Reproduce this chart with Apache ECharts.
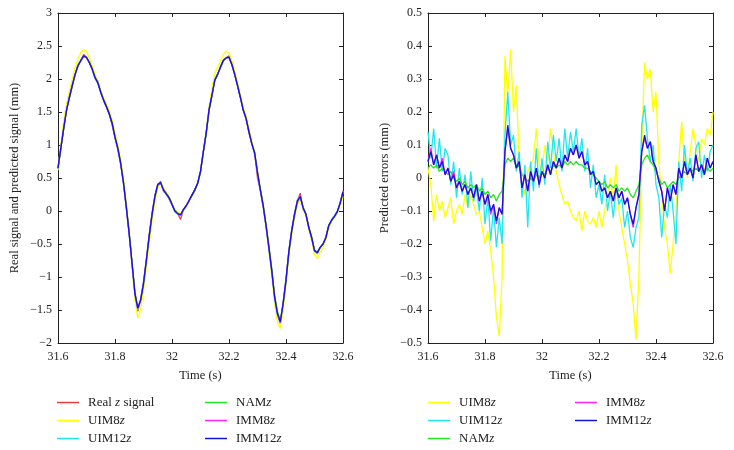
<!DOCTYPE html>
<html>
<head>
<meta charset="utf-8">
<script src="https://cdn.jsdelivr.net/npm/echarts@6/dist/echarts.min.js"></script>
<style>html,body{margin:0;padding:0;background:#fff;}#c{width:734px;height:450px;}</style>
</head>
<body>
<div id="c"></div>
<script>
// sampling grid (s)
const tStart = 31.6, tStep = 0.01;
const xTicks = [31.6, 31.8, 32, 32.2, 32.4, 32.6];
const yTicksLeft = [-2, -1.5, -1, -0.5, 0, 0.5, 1, 1.5, 2, 2.5, 3];
const yTicksRight = [-0.5, -0.4, -0.3, -0.2, -0.1, 0, 0.1, 0.2, 0.3, 0.4, 0.5];

// Left panel: real and predicted signal (mm)
const realZ = [0.65,0.95,1.25,1.53,1.72,1.90,2.07,2.20,2.28,2.37,
 2.33,2.25,2.15,2.02,1.97,1.80,1.68,1.58,1.47,1.30,
 1.12,0.95,0.72,0.42,0.05,-0.35,-0.80,-1.25,-1.52,-1.35,
 -1.10,-0.75,-0.38,-0.05,0.22,0.40,0.45,0.30,0.26,0.18,
 0.10,0.00,-0.04,-0.13,0.02,0.08,0.16,0.24,0.32,0.42,
 0.60,0.90,1.18,1.53,1.75,1.98,2.07,2.18,2.28,2.32,
 2.35,2.22,2.07,1.90,1.72,1.53,1.40,1.18,1.02,0.88,
 0.50,0.32,0.08,-0.22,-0.55,-0.90,-1.30,-1.55,-1.70,-1.40,
 -1.05,-0.62,-0.30,-0.05,0.15,0.27,0.02,-0.05,-0.25,-0.40,
 -0.60,-0.65,-0.55,-0.50,-0.40,-0.22,-0.14,-0.08,-0.01,0.12,
 0.31];
const uim8Sig = [0.62,1.00,1.35,1.62,1.82,2.00,2.17,2.30,2.40,2.44,
 2.42,2.32,2.20,2.07,1.97,1.83,1.72,1.62,1.52,1.38,
 1.18,1.00,0.78,0.48,0.10,-0.35,-0.85,-1.35,-1.62,-1.50,
 -1.20,-0.85,-0.48,-0.15,0.15,0.35,0.42,0.36,0.28,0.22,
 0.12,0.02,-0.02,-0.04,0.00,0.06,0.14,0.22,0.30,0.40,
 0.58,0.88,1.20,1.58,1.85,2.08,2.18,2.27,2.37,2.42,
 2.40,2.28,2.12,1.94,1.76,1.57,1.44,1.24,1.06,0.90,
 0.60,0.32,0.05,-0.25,-0.60,-0.98,-1.40,-1.68,-1.78,-1.50,
 -1.10,-0.68,-0.36,-0.10,0.10,0.18,0.02,-0.08,-0.28,-0.45,
 -0.66,-0.72,-0.62,-0.55,-0.44,-0.26,-0.16,-0.10,-0.04,0.08,
 0.22];
const uim12Sig = [0.66,0.97,1.27,1.54,1.74,1.91,2.08,2.21,2.29,2.35,
 2.32,2.24,2.14,2.01,1.93,1.79,1.67,1.57,1.46,1.31,
 1.10,0.93,0.70,0.40,0.02,-0.38,-0.83,-1.28,-1.50,-1.33,
 -1.07,-0.72,-0.35,-0.03,0.24,0.41,0.42,0.31,0.25,0.19,
 0.09,-0.01,-0.05,-0.06,0.01,0.07,0.15,0.23,0.31,0.42,
 0.61,0.92,1.20,1.55,1.76,1.99,2.08,2.19,2.29,2.32,
 2.32,2.21,2.06,1.89,1.71,1.52,1.39,1.19,1.01,0.86,
 0.56,0.30,0.05,-0.25,-0.58,-0.93,-1.33,-1.58,-1.70,-1.38,
 -1.02,-0.60,-0.28,-0.03,0.17,0.23,0.05,-0.06,-0.26,-0.42,
 -0.61,-0.64,-0.56,-0.50,-0.39,-0.21,-0.13,-0.07,0.00,0.13,
 0.30];
const namSig = [0.64,0.94,1.24,1.52,1.71,1.89,2.06,2.19,2.27,2.34,
 2.33,2.26,2.16,2.03,1.95,1.81,1.69,1.59,1.48,1.34,
 1.13,0.96,0.73,0.44,0.07,-0.33,-0.78,-1.23,-1.46,-1.36,
 -1.12,-0.77,-0.40,-0.07,0.20,0.39,0.43,0.33,0.27,0.20,
 0.11,0.01,-0.03,-0.06,0.02,0.08,0.16,0.24,0.32,0.41,
 0.58,0.88,1.16,1.51,1.74,1.97,2.06,2.17,2.27,2.32,
 2.33,2.23,2.08,1.91,1.73,1.54,1.41,1.21,1.03,0.89,
 0.60,0.34,0.10,-0.20,-0.52,-0.87,-1.27,-1.52,-1.66,-1.42,
 -1.08,-0.65,-0.32,-0.07,0.13,0.21,0.06,-0.04,-0.24,-0.39,
 -0.59,-0.62,-0.55,-0.50,-0.41,-0.23,-0.15,-0.09,-0.02,0.11,
 0.28];
const imm8Sig = [0.65,0.96,1.26,1.53,1.73,1.90,2.07,2.20,2.28,2.35,
 2.32,2.25,2.15,2.02,1.94,1.80,1.68,1.58,1.47,1.32,
 1.11,0.94,0.71,0.41,0.04,-0.36,-0.81,-1.26,-1.48,-1.34,
 -1.09,-0.74,-0.37,-0.04,0.23,0.40,0.43,0.32,0.26,0.20,
 0.10,0.00,-0.04,-0.06,0.02,0.08,0.16,0.24,0.32,0.42,
 0.60,0.90,1.19,1.54,1.75,1.98,2.07,2.18,2.28,2.32,
 2.33,2.22,2.07,1.90,1.72,1.53,1.40,1.20,1.02,0.87,
 0.57,0.31,0.07,-0.23,-0.56,-0.91,-1.31,-1.56,-1.69,-1.39,
 -1.04,-0.61,-0.29,-0.04,0.16,0.22,0.05,-0.05,-0.25,-0.41,
 -0.60,-0.63,-0.55,-0.50,-0.40,-0.22,-0.14,-0.08,-0.01,0.12,
 0.29];
const imm12Sig = [0.65,0.95,1.25,1.53,1.72,1.90,2.07,2.20,2.28,2.35,
 2.33,2.25,2.15,2.02,1.94,1.80,1.68,1.58,1.47,1.33,
 1.12,0.95,0.72,0.42,0.05,-0.35,-0.80,-1.25,-1.47,-1.35,
 -1.10,-0.75,-0.38,-0.05,0.22,0.40,0.43,0.32,0.26,0.20,
 0.10,0.00,-0.04,-0.06,0.02,0.08,0.16,0.24,0.32,0.42,
 0.60,0.90,1.18,1.53,1.75,1.98,2.07,2.18,2.28,2.32,
 2.33,2.22,2.07,1.90,1.72,1.53,1.40,1.20,1.02,0.88,
 0.58,0.32,0.08,-0.22,-0.55,-0.90,-1.30,-1.55,-1.68,-1.40,
 -1.05,-0.62,-0.30,-0.05,0.15,0.22,0.05,-0.05,-0.25,-0.40,
 -0.60,-0.63,-0.55,-0.50,-0.40,-0.22,-0.14,-0.08,-0.01,0.12,
 0.29];

// Right panel: predicted errors (mm)
const uim8Err = [0.03,-0.02,-0.13,-0.05,-0.10,-0.07,-0.12,-0.09,-0.06,-0.14,
 -0.10,-0.08,-0.11,-0.05,-0.09,-0.05,-0.08,-0.11,-0.10,-0.15,
 -0.20,-0.16,-0.22,-0.30,-0.42,-0.48,-0.30,0.37,0.25,0.39,
 0.20,0.28,0.05,-0.02,-0.05,0.02,0.04,0.06,0.15,0.04,
 0.02,0.10,0.05,0.15,0.08,0.02,-0.02,-0.05,-0.08,-0.07,
 -0.10,-0.12,-0.13,-0.10,-0.16,-0.10,-0.13,-0.14,-0.12,-0.15,
 -0.10,-0.15,-0.10,-0.05,0.00,-0.06,0.04,-0.10,-0.15,-0.20,
 -0.25,-0.32,-0.38,-0.49,-0.30,0.09,0.35,0.30,0.33,0.20,
 0.26,0.05,-0.05,-0.15,-0.20,-0.29,-0.20,-0.10,0.05,0.17,
 0.05,0.00,0.08,0.15,0.10,0.05,0.12,0.10,0.15,0.13,
 0.20];
const uim12Err = [0.14,0.06,0.15,0.03,0.12,0.02,0.09,0.07,-0.02,0.05,
 -0.06,0.03,-0.05,0.01,-0.09,0.02,-0.07,-0.03,-0.10,0.00,
 -0.14,-0.06,-0.19,-0.09,-0.21,-0.12,-0.20,0.13,0.26,0.10,
 0.13,0.02,0.08,-0.06,0.04,-0.15,0.05,-0.04,0.09,-0.03,
 0.06,-0.02,0.11,0.03,0.13,0.05,0.12,0.02,0.15,0.06,
 0.14,0.08,0.15,0.06,0.12,0.02,0.09,-0.03,0.04,-0.06,
 -0.02,-0.08,0.01,-0.10,-0.04,-0.12,-0.03,-0.08,-0.06,-0.15,
 -0.10,-0.18,-0.21,-0.15,-0.12,0.16,0.22,0.12,0.05,0.10,
 -0.02,-0.06,-0.18,-0.08,-0.12,-0.02,-0.10,-0.20,0.05,-0.04,
 0.10,0.01,0.06,-0.01,0.09,0.11,0.00,0.07,0.02,0.08,
 0.10];
const namErr = [0.03,0.04,0.03,0.04,0.02,0.03,0.02,0.01,0.02,0.00,
 -0.01,0.00,-0.02,-0.01,-0.03,-0.02,-0.03,-0.02,-0.04,-0.03,
 -0.05,-0.04,-0.06,-0.05,-0.07,-0.05,-0.04,0.04,0.06,0.05,
 0.06,0.03,0.04,0.01,0.00,-0.01,0.00,-0.01,0.01,0.00,
 0.02,0.01,0.03,0.02,0.04,0.03,0.04,0.03,0.05,0.04,
 0.05,0.04,0.05,0.04,0.04,0.03,0.03,0.02,0.01,0.00,
 -0.01,-0.02,-0.01,-0.03,-0.02,-0.03,-0.02,-0.04,-0.03,-0.04,
 -0.03,-0.05,-0.06,-0.04,-0.02,0.04,0.06,0.07,0.05,0.04,
 0.02,0.00,-0.02,-0.01,-0.03,-0.02,-0.01,-0.02,0.00,0.01,
 0.02,0.01,0.03,0.02,0.03,0.02,0.04,0.02,0.03,0.02,
 0.03];
const imm8Err = [0.05,0.09,0.04,0.07,0.03,0.06,0.01,0.03,-0.01,0.02,
 -0.03,-0.01,-0.04,-0.02,-0.05,-0.03,-0.06,-0.02,-0.07,-0.04,
 -0.08,-0.05,-0.11,-0.08,-0.14,-0.09,-0.11,0.08,0.15,0.09,
 0.07,0.03,0.05,-0.03,0.01,-0.04,0.02,-0.01,0.03,-0.02,
 0.02,0.00,0.04,0.01,0.05,0.03,0.06,0.03,0.07,0.05,
 0.09,0.07,0.10,0.06,0.08,0.04,0.05,0.01,0.02,-0.02,
 -0.01,-0.04,-0.03,-0.06,-0.04,-0.07,-0.03,-0.06,-0.04,-0.08,
 -0.06,-0.11,-0.15,-0.09,-0.05,0.08,0.12,0.09,0.11,0.05,
 0.03,-0.01,-0.04,-0.10,-0.03,-0.07,-0.02,-0.05,0.03,0.00,
 0.05,0.01,0.03,0.00,0.07,0.02,0.04,0.01,0.06,0.03,
 0.05];
const imm12Err = [0.05,0.08,0.04,0.07,0.03,0.05,0.01,0.03,-0.01,0.01,
 -0.03,-0.01,-0.04,-0.02,-0.05,-0.03,-0.06,-0.02,-0.07,-0.04,
 -0.08,-0.05,-0.10,-0.08,-0.13,-0.09,-0.11,0.08,0.16,0.09,
 0.07,0.03,0.05,-0.03,0.01,-0.04,0.02,-0.01,0.03,-0.02,
 0.02,0.00,0.04,0.01,0.05,0.03,0.06,0.03,0.07,0.05,
 0.09,0.07,0.10,0.06,0.08,0.04,0.05,0.01,0.02,-0.02,
 -0.01,-0.04,-0.03,-0.06,-0.04,-0.07,-0.03,-0.06,-0.04,-0.08,
 -0.06,-0.11,-0.14,-0.09,-0.05,0.08,0.13,0.09,0.11,0.05,
 0.03,-0.01,-0.04,-0.10,-0.03,-0.07,-0.02,-0.05,0.03,0.00,
 0.05,0.01,0.03,0.00,0.07,0.02,0.04,0.01,0.06,0.03,
 0.05];

const legendLeftA = ['Real z signal', 'UIM8z', 'UIM12z'];
const legendLeftB = ['NAMz', 'IMM8z', 'IMM12z'];
const legendRightA = ['UIM8z', 'UIM12z', 'NAMz'];
const legendRightB = ['IMM8z', 'IMM12z'];

const colors = {
  'Real z signal': '#f03c3c',
  'UIM8z': '#ffff00',
  'UIM12z': '#22e6ee',
  'NAMz': '#22e622',
  'IMM8z': '#ff22ff',
  'IMM12z': '#1414d8'
};

const FONT = 'Liberation Serif';
const pair = arr => arr.map((v, i) => [+(tStart + i * tStep).toFixed(3), v]);
const fmtNum = v => {
  const s = String(parseFloat((+v).toFixed(2)));
  return s.replace('-', '\u2212');
};

const axisLineStyle = { lineStyle: { color: '#222', width: 1 } };
function xAxes(gridIndex) {
  const base = {
    type: 'value', gridIndex, min: 31.6, max: 32.6, interval: 0.2,
    axisLine: Object.assign({ show: true, onZero: false }, axisLineStyle),
    axisTick: { show: true, inside: true, length: 4, lineStyle: { color: '#222' } },
    splitLine: { show: false }
  };
  return [
    Object.assign({}, base, {
      position: 'bottom',
      axisLabel: { formatter: fmtNum, fontFamily: FONT, fontSize: 12, color: '#222', margin: 8 },
      name: 'Time (s)', nameLocation: 'middle', nameGap: 26,
      nameTextStyle: { fontFamily: FONT, fontSize: 12.5, color: '#222' }
    }),
    Object.assign({}, base, { position: 'top', axisLabel: { show: false } })
  ];
}
function yAxes(gridIndex, min, max, interval, name) {
  const base = {
    type: 'value', gridIndex, min, max, interval,
    axisLine: Object.assign({ show: true, onZero: false }, axisLineStyle),
    axisTick: { show: true, inside: true, length: 4, lineStyle: { color: '#222' } },
    splitLine: { show: false }
  };
  return [
    Object.assign({}, base, {
      position: 'left',
      axisLabel: { formatter: fmtNum, fontFamily: FONT, fontSize: 12, color: '#222', margin: 6 },
      name, nameLocation: 'middle', nameGap: 37, nameRotate: 90,
      nameTextStyle: { fontFamily: FONT, fontSize: 12.5, color: '#222' }
    }),
    Object.assign({}, base, { position: 'right', axisLabel: { show: false } })
  ];
}

function line(name, data, xi, yi) {
  return {
    name, type: 'line', xAxisIndex: xi, yAxisIndex: yi, data: pair(data),
    showSymbol: false, symbol: 'none', animation: false,
    lineStyle: { color: colors[name], width: 1.3 },
    itemStyle: { color: colors[name] }
  };
}

function legend(data, left, top) {
  return {
    data, left, top, orient: 'vertical', selectedMode: false,
    padding: 0, height: 80, width: 140,
    icon: 'rect', itemWidth: 22, itemHeight: 1.5, itemGap: 3,
    formatter: n => n.replace(/z/g, '{i|z}'),
    textStyle: {
      fontFamily: FONT, fontSize: 13, color: '#222', padding: [0, 0, 0, 4], lineHeight: 15,
      rich: { i: { fontFamily: FONT, fontSize: 13, fontStyle: 'italic', color: '#222', lineHeight: 15 } }
    }
  };
}

const option = {
  backgroundColor: '#fff',
  animation: false,
  grid: [
    { left: 58, top: 13, width: 285, height: 330 },
    { left: 428, top: 13, width: 285, height: 330 }
  ],
  xAxis: xAxes(0).concat(xAxes(1)),
  yAxis: yAxes(0, -2, 3, 0.5, 'Real signal and predicted signal (mm)')
    .concat(yAxes(1, -0.5, 0.5, 0.1, 'Predicted errors (mm)')),
  legend: [
    legend(legendLeftA, 57, 395),
    legend(legendLeftB, 205, 395),
    legend(legendRightA, 428, 395),
    legend(legendRightB, 575, 395)
  ],
  series: [
    line('Real z signal', realZ, 0, 0),
    line('UIM8z', uim8Sig, 0, 0),
    line('UIM12z', uim12Sig, 0, 0),
    line('NAMz', namSig, 0, 0),
    line('IMM8z', imm8Sig, 0, 0),
    line('IMM12z', imm12Sig, 0, 0),
    line('UIM8z', uim8Err, 2, 2),
    line('UIM12z', uim12Err, 2, 2),
    line('NAMz', namErr, 2, 2),
    line('IMM8z', imm8Err, 2, 2),
    line('IMM12z', imm12Err, 2, 2)
  ]
};

const chart = echarts.init(document.getElementById('c'), null, { renderer: 'canvas' });
chart.setOption(option);
</script>
</body>
</html>
